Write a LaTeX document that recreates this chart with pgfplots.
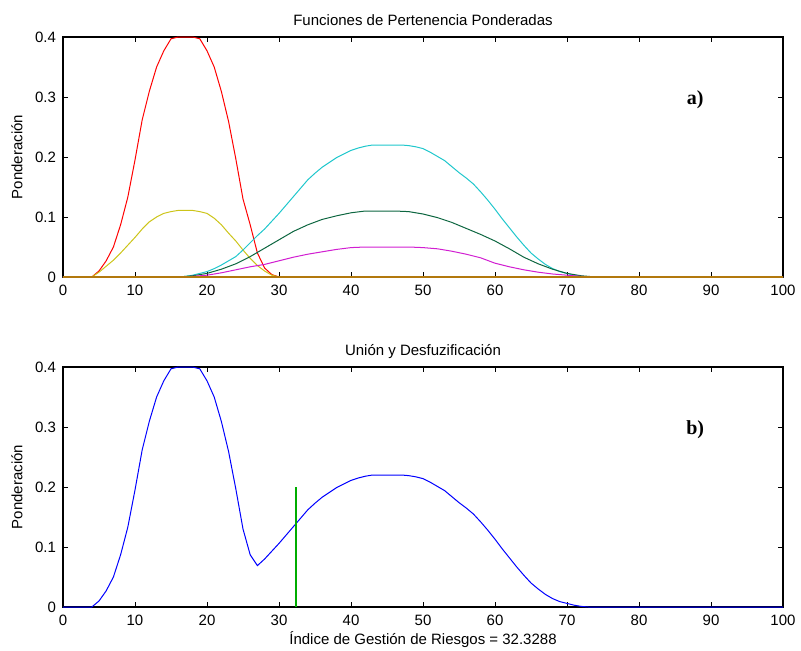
\documentclass[border=0pt]{standalone}
\usepackage{pgfplots}
\pgfplotsset{compat=1.18}
\usepackage{fontspec}
\setmainfont{Liberation Sans}
\newfontfamily\tnr{Liberation Serif}
\definecolor{cred}{rgb}{1,0,0}
\definecolor{cyel}{rgb}{0.80,0.77,0.10}
\definecolor{ccyan}{rgb}{0.12,0.78,0.80}
\definecolor{cdg}{rgb}{0.05,0.40,0.25}
\definecolor{cmag}{rgb}{0.82,0.12,0.82}
\definecolor{cbrown}{rgb}{0.70,0.47,0.05}
\definecolor{cblue}{rgb}{0,0,1}
\definecolor{cgreen}{rgb}{0,0.68,0}
\pgfplotsset{
  mystyle/.style={
    width=360pt, height=120pt, scale only axis,
    xmin=0, xmax=100, ymin=0, ymax=0.4,
    xtick={0,10,...,100}, ytick={0,0.1,0.2,0.3,0.4},
    tick align=inside, tick pos=both,
    major tick length=2.5pt,
    axis line style={line width=0.7pt},
    every tick/.style={black, line width=0.4pt},
    /pgf/number format/assume math mode=true,
    yticklabel style={/pgf/number format/fixed},
    every tick label/.append style={font=\fontsize{7.5}{9}\selectfont},
    xticklabel style={anchor=base, yshift=-9.25pt},
    title style={at={(axis description cs:0.5,1)}, anchor=base, font=\fontsize{7.5}{9}\selectfont},
    ylabel style={at={(axis description cs:-0.064,0.5)}, anchor=center, font=\fontsize{7.5}{9}\selectfont},
    xlabel style={at={(axis description cs:0.5,0)}, anchor=base, yshift=-18.5pt, font=\fontsize{7.5}{9}\selectfont},
    clip=false,
  }
}
\begin{document}
\begin{tikzpicture}
\useasboundingbox (-31.5pt,18.5pt) rectangle (369pt,-306.5pt);
\begin{axis}[mystyle, at={(0,0)}, anchor=north west,
  title={Funciones de Pertenencia Ponderadas}, ylabel={Ponderación}]
\addplot[cred, line width=0.5pt] coordinates {(0,0)(4,0)(5,0.01)(6,0.027)(7,0.05)(8,0.087)(9,0.133)(10,0.195)(11,0.262)(12,0.31)(13,0.35)(14,0.377)(15,0.397)(16,0.4)(17,0.4)(18,0.4)(19,0.397)(20,0.377)(21,0.35)(22,0.309)(23,0.259)(24,0.197)(25,0.13)(26,0.087)(27,0.04)(28,0.015)(29,0.004)(30,0)(100,0)};
\addplot[cyel, line width=0.5pt] coordinates {(0,0)(4,0)(5,0.008)(6,0.018)(7,0.028)(8,0.04)(9,0.053)(10,0.066)(11,0.08)(12,0.092)(13,0.1)(14,0.106)(15,0.109)(16,0.111)(17,0.111)(18,0.111)(19,0.109)(20,0.106)(21,0.098)(22,0.087)(23,0.073)(24,0.06)(25,0.045)(26,0.031)(27,0.019)(28,0.01)(29,0.003)(30,0)(100,0)};
\addplot[ccyan, line width=0.5pt] coordinates {(0,0)(16,0)(17,0.001)(18,0.003)(19,0.006)(20,0.009)(21,0.014)(22,0.02)(23,0.027)(24,0.034)(25,0.045)(26,0.057)(27,0.069)(28,0.08)(29,0.093)(30,0.106)(31,0.12)(32,0.134)(33,0.148)(34,0.162)(35,0.173)(36,0.183)(37,0.191)(38,0.199)(39,0.205)(40,0.211)(41,0.215)(42,0.218)(43,0.22)(44,0.22)(45,0.22)(46,0.22)(47,0.22)(48,0.219)(49,0.217)(50,0.214)(51,0.208)(52,0.201)(53,0.194)(54,0.184)(55,0.174)(56,0.165)(57,0.155)(58,0.142)(59,0.128)(60,0.113)(61,0.097)(62,0.082)(63,0.067)(64,0.053)(65,0.04)(66,0.03)(67,0.021)(68,0.014)(69,0.009)(70,0.006)(71,0.003)(72,0.001)(73,0)(100,0)};
\addplot[cdg, line width=0.5pt] coordinates {(0,0)(16,0)(18,0.002)(20,0.006)(22,0.013)(24,0.022)(26,0.034)(28,0.048)(30,0.062)(32,0.076)(34,0.087)(36,0.096)(38,0.102)(40,0.107)(42,0.11)(44,0.11)(46,0.11)(48,0.109)(50,0.105)(52,0.099)(54,0.091)(56,0.081)(58,0.071)(60,0.06)(62,0.047)(64,0.033)(66,0.022)(68,0.013)(70,0.006)(72,0.002)(74,0)(100,0)};
\addplot[cmag, line width=0.5pt] coordinates {(0,0)(16,0)(18,0.001)(20,0.003)(22,0.007)(24,0.012)(26,0.017)(28,0.021)(30,0.027)(32,0.033)(34,0.038)(36,0.042)(38,0.046)(40,0.049)(42,0.05)(44,0.05)(46,0.05)(48,0.05)(50,0.049)(52,0.047)(54,0.043)(56,0.038)(58,0.032)(60,0.023)(62,0.017)(64,0.012)(66,0.008)(68,0.005)(70,0.003)(72,0.001)(74,0)(100,0)};
\addplot[cbrown, line width=0.6pt] coordinates {(0,0)(100,0)};
\node[font=\tnr\bfseries\fontsize{10}{12}\selectfont] at (axis cs:87.8,0.295) {a)};
\end{axis}
\begin{axis}[mystyle, at={(0,-165pt)}, anchor=north west,
  title={Unión y Desfuzificación}, ylabel={Ponderación},
  xlabel={Índice de Gestión de Riesgos = 32.3288}]
\addplot[cblue, line width=0.5pt] coordinates {(0,0)(4,0)(5,0.01)(6,0.027)(7,0.05)(8,0.087)(9,0.133)(10,0.195)(11,0.262)(12,0.31)(13,0.35)(14,0.377)(15,0.397)(16,0.4)(17,0.4)(18,0.4)(19,0.397)(20,0.377)(21,0.35)(22,0.309)(23,0.259)(24,0.197)(25,0.13)(26,0.087)(27,0.069)(28,0.08)(29,0.093)(30,0.106)(31,0.12)(32,0.134)(33,0.148)(34,0.162)(35,0.173)(36,0.183)(37,0.191)(38,0.199)(39,0.205)(40,0.211)(41,0.215)(42,0.218)(43,0.22)(44,0.22)(45,0.22)(46,0.22)(47,0.22)(48,0.219)(49,0.217)(50,0.214)(51,0.208)(52,0.201)(53,0.194)(54,0.184)(55,0.174)(56,0.165)(57,0.155)(58,0.142)(59,0.128)(60,0.113)(61,0.097)(62,0.082)(63,0.067)(64,0.053)(65,0.04)(66,0.03)(67,0.021)(68,0.014)(69,0.009)(70,0.006)(71,0.003)(72,0.001)(73,0)(100,0)};
\addplot[cgreen, line width=0.8pt] coordinates {(32.3288,0)(32.3288,0.2)};
\node[font=\tnr\bfseries\fontsize{10}{12}\selectfont] at (axis cs:87.8,0.295) {b)};
\end{axis}
\end{tikzpicture}
\end{document}
